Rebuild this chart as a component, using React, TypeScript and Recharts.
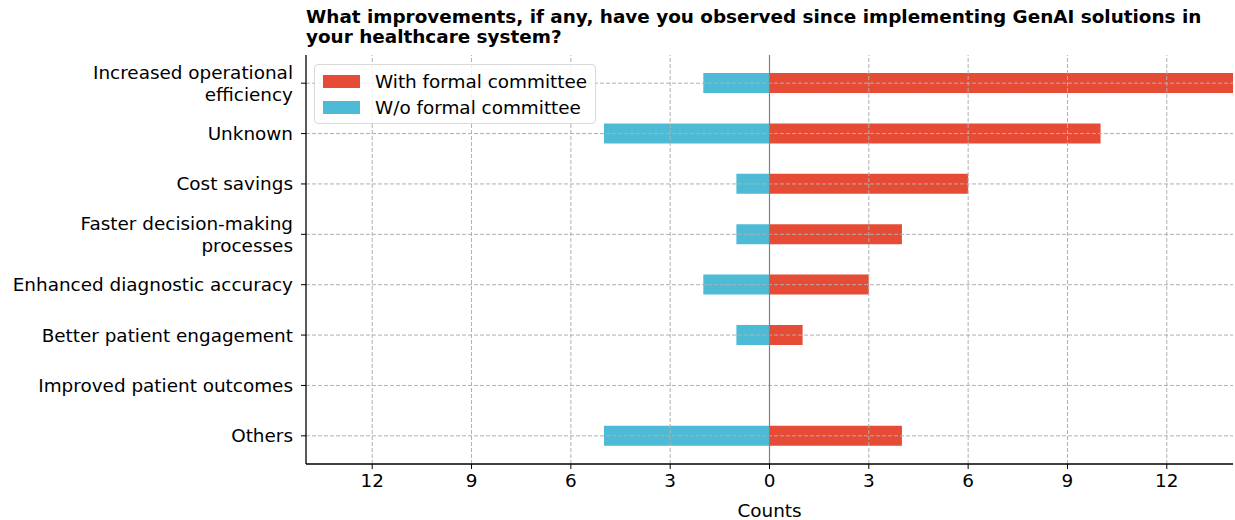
import React from "react";
import { BarChart, Bar, XAxis, YAxis, ReferenceLine } from "recharts";

const categories = [
  "Increased operational\nefficiency",
  "Unknown",
  "Cost savings",
  "Faster decision-making\nprocesses",
  "Enhanced diagnostic accuracy",
  "Better patient engagement",
  "Improved patient outcomes",
  "Others",
];
const withCommittee = [14, 10, 6, 4, 3, 1, 0, 4];
const withoutCommittee = [-2, -5, -1, -1, -2, -1, 0, -5];
const xTicks = [-12, -9, -6, -3, 0, 3, 6, 9, 12];

const seriesNames = ["With formal committee", "W/o formal committee"];
const colors = ["#E64B35", "#4DBBD5"];

const data = categories.map((name, i) => ({
  name,
  with: withCommittee[i],
  without: withoutCommittee[i],
}));

const FONT = "'DejaVu Sans', sans-serif";
const FS = 18.4;
const GRID = "#b0b0b0";

const YTick = (props: any) => {
  const { x, y, payload } = props;
  const lines = String(payload.value).split("\n");
  const lh = 22;
  const start = -((lines.length - 1) * lh) / 2;
  return (
    <text x={x} y={y} textAnchor="end" fontFamily={FONT} fontSize={FS} fill="#000">
      {lines.map((l, i) => (
        <tspan key={i} x={x} y={y + start + i * lh} dy="0.35em">
          {l}
        </tspan>
      ))}
    </text>
  );
};

const LegendBox = () => (
  <div
    style={{
      position: "absolute",
      left: 314,
      top: 64,
      border: "1px solid #d9d9d9",
      borderRadius: 4,
      background: "rgba(255,255,255,0.8)",
      padding: "3px 8px 3px 8px",
      fontFamily: FONT,
      fontSize: FS,
      color: "#000",
    }}
  >
    {seriesNames.map((n, i) => (
      <div key={n} style={{ display: "flex", alignItems: "center", height: 26 }}>
        <span
          style={{
            display: "inline-block",
            width: 37,
            height: 13,
            background: colors[i],
            marginRight: 15,
          }}
        />
        {n}
      </div>
    ))}
  </div>
);

export default function App() {
  return (
    <div
      style={{
        position: "absolute",
        left: 0,
        top: 0,
        width: 1235,
        height: 520,
        background: "#fff",
      }}
    >
      <div
        style={{
          position: "absolute",
          left: 306,
          top: 7,
          fontFamily: FONT,
          fontWeight: "bold",
          fontSize: FS,
          lineHeight: "20px",
          color: "#000",
          width: 925,
        }}
      >
        What improvements, if any, have you observed since implementing GenAI solutions in
        <br />
        your healthcare system?
      </div>
      <BarChart
        width={1235}
        height={520}
        data={data}
        layout="vertical"
        stackOffset="sign"
        margin={{ top: 55, right: 2, bottom: 0, left: 0 }}
        style={{ position: "absolute", left: 0, top: 0 }}
      >
        <XAxis
          type="number"
          domain={[-14, 14]}
          ticks={xTicks}
          allowDataOverflow
          tickFormatter={(v: number) => String(Math.abs(v))}
          axisLine={{ stroke: "#000", strokeWidth: 1.3 }}
          tickLine={{ stroke: "#000" }}
          tickSize={5}
          tickMargin={5}
          height={56}
          tick={{ fontFamily: FONT, fontSize: FS, fill: "#000" }}
          label={{
            value: "Counts",
            position: "insideBottom",
            offset: 3,
            style: { fontFamily: FONT, fontSize: FS, fill: "#000" },
          }}
        />
        <YAxis
          type="category"
          dataKey="name"
          width={306}
          padding={{ top: 3, bottom: 3 }}
          axisLine={{ stroke: "#000", strokeWidth: 1.3 }}
          tickLine={{ stroke: "#000" }}
          tickSize={5}
          tickMargin={8}
          tick={<YTick />}
          interval={0}
        />
        <Bar
          dataKey="with"
          name={seriesNames[0]}
          stackId="s"
          fill={colors[0]}
          barSize={20}
          isAnimationActive={false}
        />
        <Bar
          dataKey="without"
          name={seriesNames[1]}
          stackId="s"
          fill={colors[1]}
          barSize={20}
          isAnimationActive={false}
        />
        {xTicks.map((t) => (
          <ReferenceLine key={`vx${t}`} x={t} stroke={GRID} strokeDasharray="4 2" strokeWidth={1} />
        ))}
        {categories.map((c) => (
          <ReferenceLine key={`hy${c}`} y={c} stroke={GRID} strokeDasharray="4 2" strokeWidth={1} />
        ))}
        <ReferenceLine x={0} stroke="#808080" strokeWidth={1.2} />
      </BarChart>
      <LegendBox />
    </div>
  );
}
